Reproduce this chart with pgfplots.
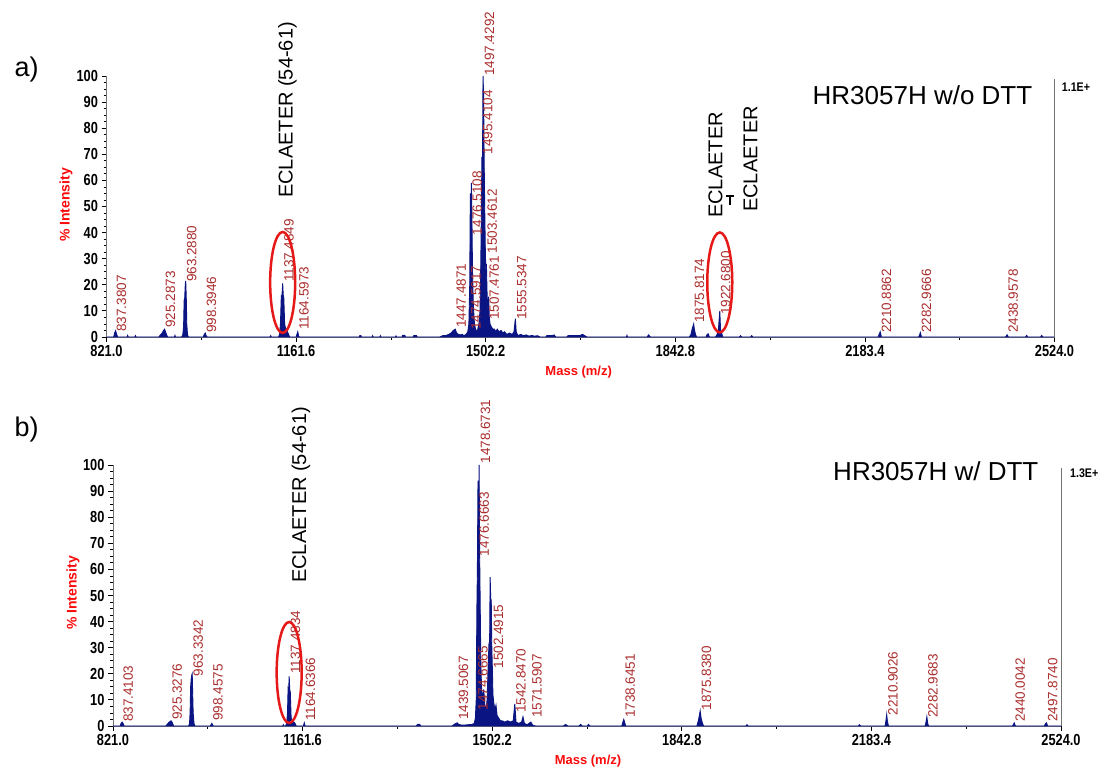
\documentclass[border=0pt]{standalone}
\usepackage{pgfplots}
\pgfplotsset{compat=1.18}
\usepackage{fontspec}
\setmainfont{Liberation Sans}
\usepackage{graphicx}
\definecolor{navy}{RGB}{10,20,130}
\definecolor{labred}{RGB}{170,45,45}
\definecolor{ellred}{RGB}{230,25,25}
\definecolor{axred}{RGB}{250,10,10}
\newcommand{\tl}[1]{\scalebox{0.8}[1]{\bfseries #1}}
\newcommand{\pk}[3]{\node[lab] at (axis cs:#2,#3) {#1};}
\tikzset{lab/.style={rotate=90, anchor=north west, inner sep=0pt, font=\fontsize{13.5}{13.5}\selectfont, text=labred}}
\pgfplotsset{spec/.style={
  scale only axis, width=948pt, height=261pt,
  xmin=821, xmax=2524, ymin=0, ymax=100,
  axis x line=bottom, axis y line=left,
  axis line style={-, draw=black!55, line width=0.9pt},
  xtick={821,1161.6,1502.2,1842.8,2183.4,2524},
  xticklabels={\tl{821.0},\tl{1161.6},\tl{1502.2},\tl{1842.8},\tl{2183.4},\tl{2524.0}},
  minor x tick num=1,
  ytick={0,10,20,30,40,50,60,70,80,90,100},
  yticklabels={\tl{0},\tl{10},\tl{20},\tl{30},\tl{40},\tl{50},\tl{60},\tl{70},\tl{80},\tl{90},\tl{100}},
  minor y tick num=3,
  tick align=outside,
  major tick length=5pt, minor tick length=3pt,
  tick style={black, line width=0.8pt},
  tick label style={font=\fontsize{16}{16}\selectfont},
  clip=false,
}}
\begin{document}
\begin{tikzpicture}[x=1pt,y=1pt]
\useasboundingbox (0pt,0pt) rectangle (1106pt,773pt);
% ---------------- panel a ----------------
\begin{axis}[spec, at={(106.5pt,436pt)}, anchor=south west]
\addplot[draw=navy, fill=navy, line width=0.9pt] coordinates {
(821,0)(834,0)(835.5,1.5)(837.4,2.4)(839,1.2)(841,0)
(858,0)(859,0.6)(860,0)(872,0)(873,0.5)(874,0)
(915,0)(918,0.8)(921,1.5)(923.5,2.5)(925.3,3)(927,2)(929,0.8)(931,0)
(943,0)(944,0.6)(945,0)
(956,0)(958,0.8)(959.5,4)(960.5,14)(961.5,15)(962.5,20)(963.3,21.5)(964.3,15)(965.2,5)(966.5,1)(968,0)
(995,0)(996.5,1)(998.4,1.5)(1000,0.5)(1002,0)
(1115,0)(1116,0.5)(1117,0)
(1130,0)(1132,1)(1133.5,5)(1135,15.5)(1136,15)(1137.5,20.5)(1138.5,16)(1139.5,15)(1141,5)(1142.5,3.5)(1144,3)(1146,2)(1148,1)(1150,0)
(1162,0)(1163,1)(1164.6,2)(1166,0.5)(1167,0)
(1275,0)(1276,0.5)(1278,0.5)(1279,0)
(1298,0)(1299,0.5)(1300,0)(1312,0)(1313,0.5)(1314,0)
(1340,0)(1341,0.4)(1342,0)(1352,0)(1353,0.6)(1357,0.6)(1358,0)
(1372,0)(1373,0.5)(1378,0.5)(1379,0)
(1420,0)(1425,0.5)(1430,0.5)(1436,1)(1440,1.5)(1444,2.5)(1447.5,3)(1450,1.5)(1453,1)(1456,0.8)(1460,1)(1463,0.5)(1467,1)(1470,2)(1472,5)
(1473.5,20)(1474.6,55)(1475.5,40)(1476.5,59)(1477.5,45)(1478.5,25)(1480,12)(1482,5)(1484,3)(1486,2)(1488,3)(1490,5)(1492,10)(1493.5,30)(1494.5,50)
(1495.4,69)(1496.4,65)(1497.4,100)(1498.4,93)(1499.4,68)(1500.4,50)(1501.4,35)(1502.4,25)(1503.5,28)(1504.5,18)(1505.5,12)(1506.5,10)(1507.5,15.5)(1508.5,8)
(1510,5)(1512,4)(1515,3)(1518,3)(1520,2)(1523,3)(1526,2)(1530,2.5)(1533,1.5)(1536,2)(1540,1)(1545,1.5)(1550,1)(1553,2)(1555.5,7)(1557,2)
(1560,0.5)(1565,1)(1570,0.5)(1575,0.8)(1580,0.3)(1585,0.6)(1590,0.3)(1595,0.5)(1600,0)
(1610,0)(1612,0.5)(1622,0.5)(1625,0.8)(1628,0)
(1648,0)(1650,0.5)(1660,0.5)(1672,0.6)(1676,1)(1680,0.5)(1684,0)
(1755,0)(1756,0.6)(1757,0)(1792,0)(1795,0.8)(1798,0)
(1868,0)(1871,1)(1873,3)(1875.8,5)(1877,3)(1879,1)(1881,0)
(1898,0)(1900,1)(1902,1.2)(1904,0)
(1915,0)(1918,1)(1920,2)(1922.7,10)(1924,3)(1926,1.5)(1928,0)
(1958,0)(1960,0.5)(1962,0)(1978,0)(1980,0.5)(1982,0)
(2207,0)(2209,1)(2210.9,2)(2213,0)
(2280,0)(2282,1)(2283,1.7)(2285,0)
(2436,0)(2438,0.6)(2439,0.8)(2441,0)
(2472,0)(2474,0.6)(2476,0)(2499,0)(2501,0.6)(2503,0)(2524,0)
} \closedcycle;
\draw[black!55, line width=0.9pt] (rel axis cs:1,0) -- (rel axis cs:1,0.99);
\pk{837.3807}{839}{2}
\pk{925.2873}{927}{3.5}
\pk{963.2880}{965}{21}
\pk{998.3946}{1000.5}{1.5}
\pk{1137.4849}{1140}{21}
\pk{1164.5973}{1167}{2.7}
\pk{1447.4871}{1449.5}{3.5}
\pk{1474.5917}{1476}{2.7}
\pk{1476.5108}{1478}{39}
\pk{1495.4104}{1497}{70}
\pk{1497.4292}{1500}{100}
\pk{1503.4612}{1505}{32}
\pk{1507.4761}{1508.5}{6.5}
\pk{1555.5347}{1558}{6.5}
\pk{1875.8174}{1877.5}{5.4}
\pk{1922.6800}{1924.5}{8.4}
\pk{2210.8862}{2213}{1.5}
\pk{2282.9666}{2285}{1.5}
\pk{2438.9578}{2441}{1.5}
\draw[ellred, line width=2.5pt] (axis cs:1137.48,20.9) ellipse [x radius=12.5pt, y radius=50.5pt];
\draw[ellred, line width=2.5pt] (axis cs:1922.68,20.9) ellipse [x radius=12.5pt, y radius=50pt];
\end{axis}
% ---------------- panel b ----------------
\begin{axis}[spec, at={(113pt,47pt)}, anchor=south west]
\addplot[draw=navy, fill=navy, line width=0.9pt] coordinates {
(821,0)(834,0)(835.5,1)(837.4,1.5)(839,1)(841,0)
(916,0)(919,0.8)(922,1.5)(925.3,2)(927,1.5)(930,0)
(957,0)(958.5,1)(959.5,5)(960.5,15)(961.5,18)(962.5,19.5)(963.3,20)(964.2,12)(965,5)(966.5,1)(968,0)
(996,0)(998.5,1)(1001,0)
(1126,0)(1127,0.5)(1128,0)
(1131,0)(1133,1)(1134.5,5)(1135.5,14)(1136.5,13)(1137.5,19)(1138.5,14)(1139.5,13)(1141,3)(1143,2)(1146,1.5)(1148,1)(1150,0)
(1163,0)(1164.6,1.2)(1166,0)
(1366,0)(1368,0.6)(1372,0.6)(1374,0)
(1430,0)(1434,0.6)(1437,1)(1439.5,1.2)(1442,0.6)(1446,0.4)(1450,0.3)(1455,0.4)(1460,0.5)(1465,0.5)(1470,1)(1472,3)
(1473.5,10)(1474.7,45)(1475.6,60)(1476.7,94)(1477.7,70)(1478.7,100)(1479.7,65)(1480.7,45)(1481.7,25)(1483,15)(1485,10)(1487,14)(1489,8)(1491,6)(1493,10)
(1494.5,20)(1496.3,31)(1497.5,30)(1498.5,57)(1499.5,49)(1500.5,48)(1501.5,30)(1502.5,22)(1503.5,12)(1505,9)(1507,6)(1509,8)(1511,4)(1514,3)(1517,2)
(1520,2)(1525,1.5)(1530,2)(1535,1.5)(1540,2)(1542.8,8.5)(1545,1.5)(1550,1)(1555,1.5)(1557.5,3.5)(1560,1)(1565,0.5)(1571.6,1.5)(1575,0.3)(1580,0)
(1630,0)(1634,0.6)(1638,0)(1658,0)(1661,0.6)(1664,0)(1673,0)(1675,0.6)(1678,0)
(1735,0)(1737,1.5)(1738.6,2.5)(1740,1.5)(1742,0)
(1870,0)(1873,2.5)(1875.8,5.8)(1877.5,3)(1880,1)(1882,0)
(1958,0)(1960,0.5)(1962,0)(2160,0)(2162,0.5)(2164,0)
(2208,0)(2209.5,2)(2210.9,4.4)(2212,2)(2214,0)
(2280,0)(2281.5,1.5)(2283,3.5)(2284.5,1)(2286,0)
(2437,0)(2439,0.8)(2440,1.2)(2442,0)
(2494,0)(2496,0.8)(2497.9,1.2)(2500,0)(2524,0)
} \closedcycle;
\draw[black!55, line width=0.9pt] (rel axis cs:1,0) -- (rel axis cs:1,0.99);
\pk{837.4103}{839.5}{1.5}
\pk{925.3276}{927.5}{2.3}
\pk{963.3342}{965}{19}
\pk{998.4575}{1000.5}{2}
\pk{1137.4834}{1140}{20}
\pk{1164.6366}{1167}{2}
\pk{1439.5067}{1441.5}{2.3}
\pk{1474.6665}{1476.5}{6}
\pk{1476.6663}{1479}{65}
\pk{1478.6731}{1481}{100.5}
\pk{1502.4915}{1504.5}{22}
\pk{1542.8470}{1545}{5}
\pk{1571.5907}{1573.5}{3}
\pk{1738.6451}{1741}{3}
\pk{1875.8380}{1878}{6}
\pk{2210.9026}{2213}{4}
\pk{2282.9683}{2285}{3}
\pk{2440.0042}{2442}{1.5}
\pk{2497.8740}{2500}{1.5}
\draw[ellred, line width=2.5pt] (axis cs:1137.48,20.5) ellipse [x radius=12.5pt, y radius=50.5pt];
\end{axis}
% ---------------- free text ----------------
\node[anchor=west, font=\fontsize{27}{27}\selectfont] at (11pt,703pt) {a)};
\node[anchor=west, font=\fontsize{27}{27}\selectfont] at (11pt,343pt) {b)};
\node[anchor=base, font=\fontsize{26}{26}\selectfont] at (922.5pt,668pt) {HR3057H w/o DTT};
\node[anchor=base, font=\fontsize{26}{26}\selectfont] at (935.8pt,292.3pt) {HR3057H w/ DTT};
\node[anchor=base west, inner sep=0pt, font=\fontsize{12.5}{12.5}\selectfont\bfseries] at (1061.7pt,681.3pt) {\scalebox{0.85}[1]{1.1E+}};
\node[anchor=base west, inner sep=0pt, font=\fontsize{12.5}{12.5}\selectfont\bfseries] at (1070pt,295.7pt) {\scalebox{0.85}[1]{1.3E+}};
\node[rotate=90, text=axred, font=\fontsize{14}{14}\selectfont\bfseries] at (66pt,568pt) {\% Intensity};
\node[rotate=90, text=axred, font=\fontsize{14}{14}\selectfont\bfseries] at (73pt,180pt) {\% Intensity};
\node[text=axred, font=\fontsize{13}{13}\selectfont\bfseries] at (578.7pt,401pt) {Mass (m/z)};
\node[text=axred, font=\fontsize{13}{13}\selectfont\bfseries] at (588pt,11.5pt) {Mass (m/z)};
\node[rotate=90, anchor=west, inner sep=0pt, font=\fontsize{20}{20}\selectfont] at (287.5pt,575pt) {ECLAETER (54-61)};
\node[rotate=90, anchor=west, inner sep=0pt, font=\fontsize{20}{20}\selectfont] at (301pt,190pt) {ECLAETER (54-61)};
\node[rotate=90, anchor=west, inner sep=0pt, font=\fontsize{20}{20}\selectfont] at (715.5pt,555pt) {ECLAETER};
\node[rotate=90, anchor=west, inner sep=0pt, font=\fontsize{20}{20}\selectfont] at (750.5pt,561pt) {ECLAETER};
\draw[black, line width=1.8pt] (726pt,577pt) -- (734pt,577pt);
\draw[black, line width=1.8pt] (730pt,577pt) -- (730pt,568pt);
\end{tikzpicture}
\end{document}
